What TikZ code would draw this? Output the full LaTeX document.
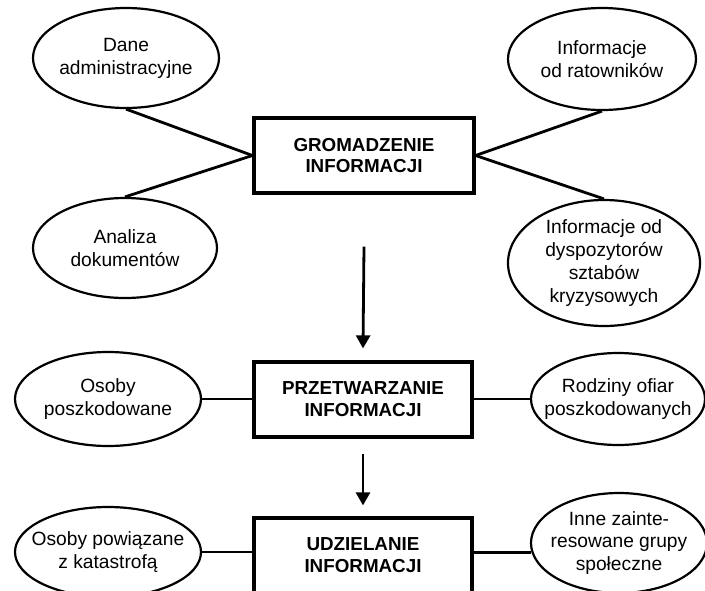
\documentclass[tikz,border=0pt]{standalone}
\usepackage{fontspec}
\setmainfont{Liberation Sans}
\usetikzlibrary{shapes.geometric,arrows.meta}

\newcommand{\ovalfont}{\fontsize{19.2}{22.8}\selectfont}
\newcommand{\stagefont}{\fontsize{18.8}{21.8}\selectfont\bfseries}

\tikzset{
  oval/.style={ellipse, draw, line width=2.2pt, inner xsep=-20pt, inner ysep=-15pt,
               align=center, font=\ovalfont},
  stage/.style={rectangle, draw, line width=3.2pt, minimum height=75pt,
                align=center, font=\stagefont},
  link/.style={line width=2.8pt},
  flow/.style={line width=2.8pt, -{Triangle[width=14pt,length=13pt]}}
}

\begin{document}
\begin{tikzpicture}[x=1pt, y=-1pt]
  \useasboundingbox (0,0) rectangle (705,590);
  \clip (0,0) rectangle (705,590);

  % process stages
  \node[stage, minimum width=220pt] (g1) at (364,155.5) {GROMADZENIE\\INFORMACJI};
  \node[stage, minimum width=218pt] (g2) at (363,399.5) {PRZETWARZANIE\\INFORMACJI};
  \node[stage, minimum width=218pt] (g3) at (363,555.5) {UDZIELANIE\\INFORMACJI};

  % sources and recipients
  \node[oval, minimum width=186pt, minimum height=100pt] (e1) at (126,58) {Dane\\administracyjne};
  \node[oval, minimum width=188pt, minimum height=102pt] (e2) at (602,59) {Informacje\\od ratowników};
  \node[oval, minimum width=184pt, minimum height=100pt] (e3) at (125,248) {Analiza\\dokumentów};
  \node[oval, minimum width=192pt, minimum height=126pt] (e4) at (604,263) {Informacje od\\dyspozytorów\\sztabów\\kryzysowych};
  \node[oval, minimum width=186pt, minimum height=94pt] (e5) at (108,399) {Osoby\\poszkodowane};
  \node[oval, minimum width=174pt, minimum height=92pt] (e6) at (618,399) {Rodziny ofiar\\poszkodowanych};
  \node[oval, minimum width=186pt, minimum height=90pt] (e7) at (108,552) {Osoby powiązane\\z katastrofą};
  \node[oval, minimum width=176pt, minimum height=100pt] (e8) at (619,543) {Inne zainte-\\resowane grupy\\społeczne};

  % links to the first stage
  \draw[link] (e1.south) -- (g1.west);
  \draw[link] (g1.west) -- (e3.north);
  \draw[link] (g1.east) -- (e2.south);
  \draw[link] (g1.east) -- (e4.north);

  % links to the second stage
  \draw[link] (e5.east) -- (e5.east -| g2.west);
  \draw[link] (e6.west -| g2.east) -- (e6.west);

  % links to the third stage
  \draw[link] (e7.east) -- (e7.east -| g3.west);
  \draw[link] (e8.186 -| g3.east) -- (e8.186);

  % flow between stages
  \draw[flow] ([yshift=-52pt]g1.south) -- ([yshift=12pt]g2.north);
  \draw[flow] ([yshift=-15pt]g2.south) -- ([yshift=11pt]g3.north);
\end{tikzpicture}
\end{document}
